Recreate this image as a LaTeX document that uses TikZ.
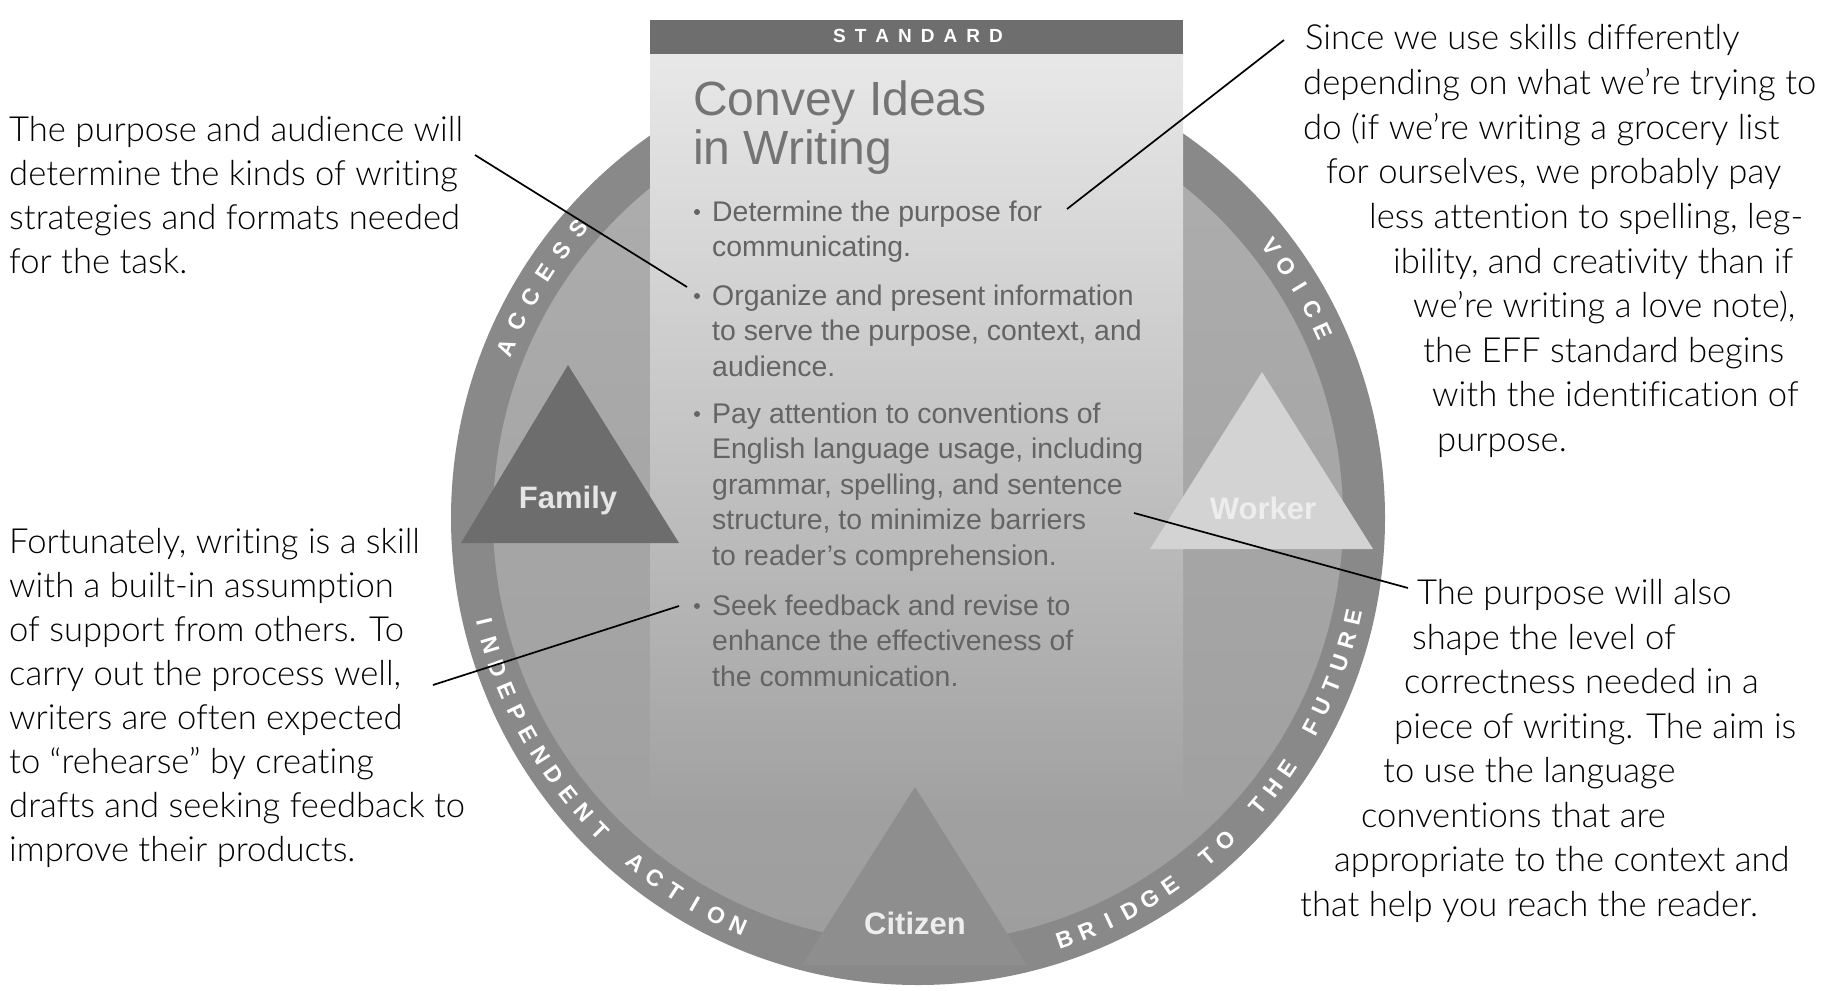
\documentclass[tikz,border=0pt]{standalone}
\usepackage{fontspec}
\setmainfont{Liberation Sans}
\newfontfamily\gillfont[Ligatures=NoCommon]{Lato Light}
\definecolor{ringgray}{HTML}{898989}
\definecolor{discTop}{HTML}{AEAEAE}
\definecolor{discBottom}{HTML}{9E9E9E}
\definecolor{colTop}{HTML}{E8E8E8}
\definecolor{colBottom}{HTML}{A2A2A2}
\definecolor{barGray}{HTML}{6E6E6E}
\definecolor{famGray}{HTML}{6D6D6D}
\definecolor{wrkGray}{HTML}{D3D3D3}
\definecolor{citGray}{HTML}{8E8E8E}
\definecolor{bodyGray}{HTML}{646464}
\begin{document}
\begin{tikzpicture}[x=1pt,y=-1pt,
  sidetext/.style={font=\gillfont\fontsize{34.6}{34.6}\selectfont, anchor=base west, inner sep=0pt, text=black},
  bullettext/.style={font=\fontsize{28.4}{28.4}\selectfont, anchor=base west, inner sep=0pt, text=bodyGray},
  titletext/.style={font=\fontsize{48}{48}\selectfont, anchor=base west, inner sep=0pt, text=bodyGray!90!white},
  bulletdot/.style={circle, fill=bodyGray, inner sep=0pt, minimum size=6pt},
  ringletter/.style={font=\bfseries\fontsize{23}{23}\selectfont, text=white, inner sep=0pt},
  trilabel/.style={font=\bfseries\fontsize{31}{31}\selectfont, inner sep=0pt},
  leader/.style={line width=1.7pt, black}
]
\useasboundingbox (0,0) rectangle (1835,990);

% ---- the wheel: ring, disc, standard column
\fill[ringgray] (918,518) circle[radius=467];
\shade[top color=discTop, bottom color=discBottom] (918,518) circle[radius=425];
\shade[top color=colTop, bottom color=colBottom] (650,54) rectangle (1183,800);
\fill[barGray] (650,20) rectangle (1183,54);
\node[font=\bfseries\fontsize{19}{19}\selectfont, text=white, inner sep=0pt] (std) at (918,36)
  {S\kern9pt T\kern9pt A\kern9pt N\kern9pt D\kern9pt A\kern9pt R\kern9pt D};

% ---- role triangles
\fill[famGray] (568,365) -- (679,543) -- (461,543) -- cycle;
\fill[wrkGray] (1262,372) -- (1373,549) -- (1150,549) -- cycle;
\fill[citGray] (915,787) -- (1027,965) -- (802,965) -- cycle;
\node[trilabel, text=white!90!black] (family) at (568,500) {Family};
\node[trilabel, text=white!93!black] (worker) at (1263,508) {Worker};
\node[trilabel, text=white!93!black] (citizen) at (915,923) {Citizen};

% ---- words around the ring
\foreach \ch [count=\i from 0] in {A,C,C,E,S,S}{
  \pgfmathsetmacro{\a}{157.5-3.6*\i}
  \node[ringletter, rotate=\a-90] (acc-\i) at ({918+446*cos(\a)},{518-446*sin(\a)}) {\ch};
}
\foreach \ch [count=\i from 0] in {V,O,I,C,E}{
  \pgfmathsetmacro{\a}{37.5-3.2*\i}
  \node[ringletter, rotate=\a-90] (voi-\i) at ({918+446*cos(\a)},{518-446*sin(\a)}) {\ch};
}
\foreach \ch [count=\i from 0] in {I,N,D,E,P,E,N,D,E,N,T,{},A,C,T,I,O,N}{
  \pgfmathsetmacro{\a}{193.5+3.1*\i}
  \node[ringletter, rotate=\a+90] (ind-\i) at ({918+446*cos(\a)},{518-446*sin(\a)}) {\ch};
}
\foreach \ch [count=\i from 0] in {B,R,I,D,G,E,{},T,O,{},T,H,E,{},F,U,T,U,R,E}{
  \pgfmathsetmacro{\a}{289.2+3.05*\i}
  \node[ringletter, rotate=\a+90] (bri-\i) at ({918+446*cos(\a)},{518-446*sin(\a)}) {\ch};
}

% ---- standard text
\node[titletext] (title1) at (693,115) {Convey Ideas};
\node[titletext] (title2) at (693,164) {in Writing};

\node[bulletdot] (b1) at (697,212) {};
\node[bullettext] (s1a) at (712,221) {Determine the purpose for};
\node[bullettext] (s1b) at (712,256.5) {communicating.};
\node[bulletdot] (b2) at (697,296) {};
\node[bullettext] (s2a) at (712,305) {Organize and present information};
\node[bullettext] (s2b) at (712,340.5) {to serve the purpose, context, and};
\node[bullettext] (s2c) at (712,376) {audience.};
\node[bulletdot] (b3) at (697,414) {};
\node[bullettext] (s3a) at (712,423) {Pay attention to conventions of};
\node[bullettext] (s3b) at (712,458.5) {English language usage, including};
\node[bullettext] (s3c) at (712,494) {grammar, spelling, and sentence};
\node[bullettext] (s3d) at (712,529.5) {structure, to minimize barriers};
\node[bullettext] (s3e) at (712,565) {to reader’s comprehension.};
\node[bulletdot] (b4) at (697,606) {};
\node[bullettext] (s4a) at (712,615) {Seek feedback and revise to};
\node[bullettext] (s4b) at (712,650.5) {enhance the effectiveness of};
\node[bullettext] (s4c) at (712,686) {the communication.};

% ---- left notes
\node[sidetext] (la1) at (9,141) {The purpose and audience will};
\node[sidetext] (la2) at (9,185) {determine the kinds of writing};
\node[sidetext] (la3) at (9,229) {strategies and formats needed};
\node[sidetext] (la4) at (9,273) {for the task.};

\node[sidetext] (lb1) at (9,553) {Fortunately, writing is a skill};
\node[sidetext] (lb2) at (9,597) {with a built-in assumption};
\node[sidetext] (lb3) at (9,641) {of support from others. To};
\node[sidetext] (lb4) at (9,685) {carry out the process well,};
\node[sidetext] (lb5) at (9,729) {writers are often expected};
\node[sidetext] (lb6) at (9,773) {to “rehearse” by creating};
\node[sidetext] (lb7) at (9,817) {drafts and seeking feedback to};
\node[sidetext] (lb8) at (9,861) {improve their products.};

% ---- right notes
\node[sidetext] (ra1) at (1305,50) {Since we use skills differently};
\node[sidetext] (ra2) at (1303,94.6) {depending on what we’re trying to};
\node[sidetext] (ra3) at (1303,139.2) {do (if we’re writing a grocery list};
\node[sidetext] (ra4) at (1326,183.8) {for ourselves, we probably pay};
\node[sidetext] (ra5) at (1369,228.4) {less attention to spelling, leg-};
\node[sidetext] (ra6) at (1393,273) {ibility, and creativity than if};
\node[sidetext] (ra7) at (1413,317.6) {we’re writing a love note),};
\node[sidetext] (ra8) at (1423,362.2) {the EFF standard begins};
\node[sidetext] (ra9) at (1432,406.8) {with the identification of};
\node[sidetext] (ra10) at (1437,451.4) {purpose.};

\node[sidetext] (rb1) at (1417,604.5) {The purpose will also};
\node[sidetext] (rb2) at (1412,649) {shape the level of};
\node[sidetext] (rb3) at (1404,693.5) {correctness needed in a};
\node[sidetext] (rb4) at (1394,738) {piece of writing. The aim is};
\node[sidetext] (rb5) at (1383,782.5) {to use the language};
\node[sidetext] (rb6) at (1361,827) {conventions that are};
\node[sidetext] (rb7) at (1334,871.5) {appropriate to the context and};
\node[sidetext] (rb8) at (1300,916) {that help you reach the reader.};

% ---- leader lines
\coordinate (p1s) at (475,155);
\coordinate (p1e) at (687,287);
\coordinate (p2s) at (433,685);
\coordinate (p2e) at (679,606);
\coordinate (p3s) at (1284,40);
\coordinate (p3e) at (1067,209);
\coordinate (p4s) at (1134,513);
\coordinate (p4e) at (1408,588);
\draw[leader] (p1s) -- (p1e);
\draw[leader] (p2s) -- (p2e);
\draw[leader] (p3s) -- (p3e);
\draw[leader] (p4s) -- (p4e);
\end{tikzpicture}
\end{document}
